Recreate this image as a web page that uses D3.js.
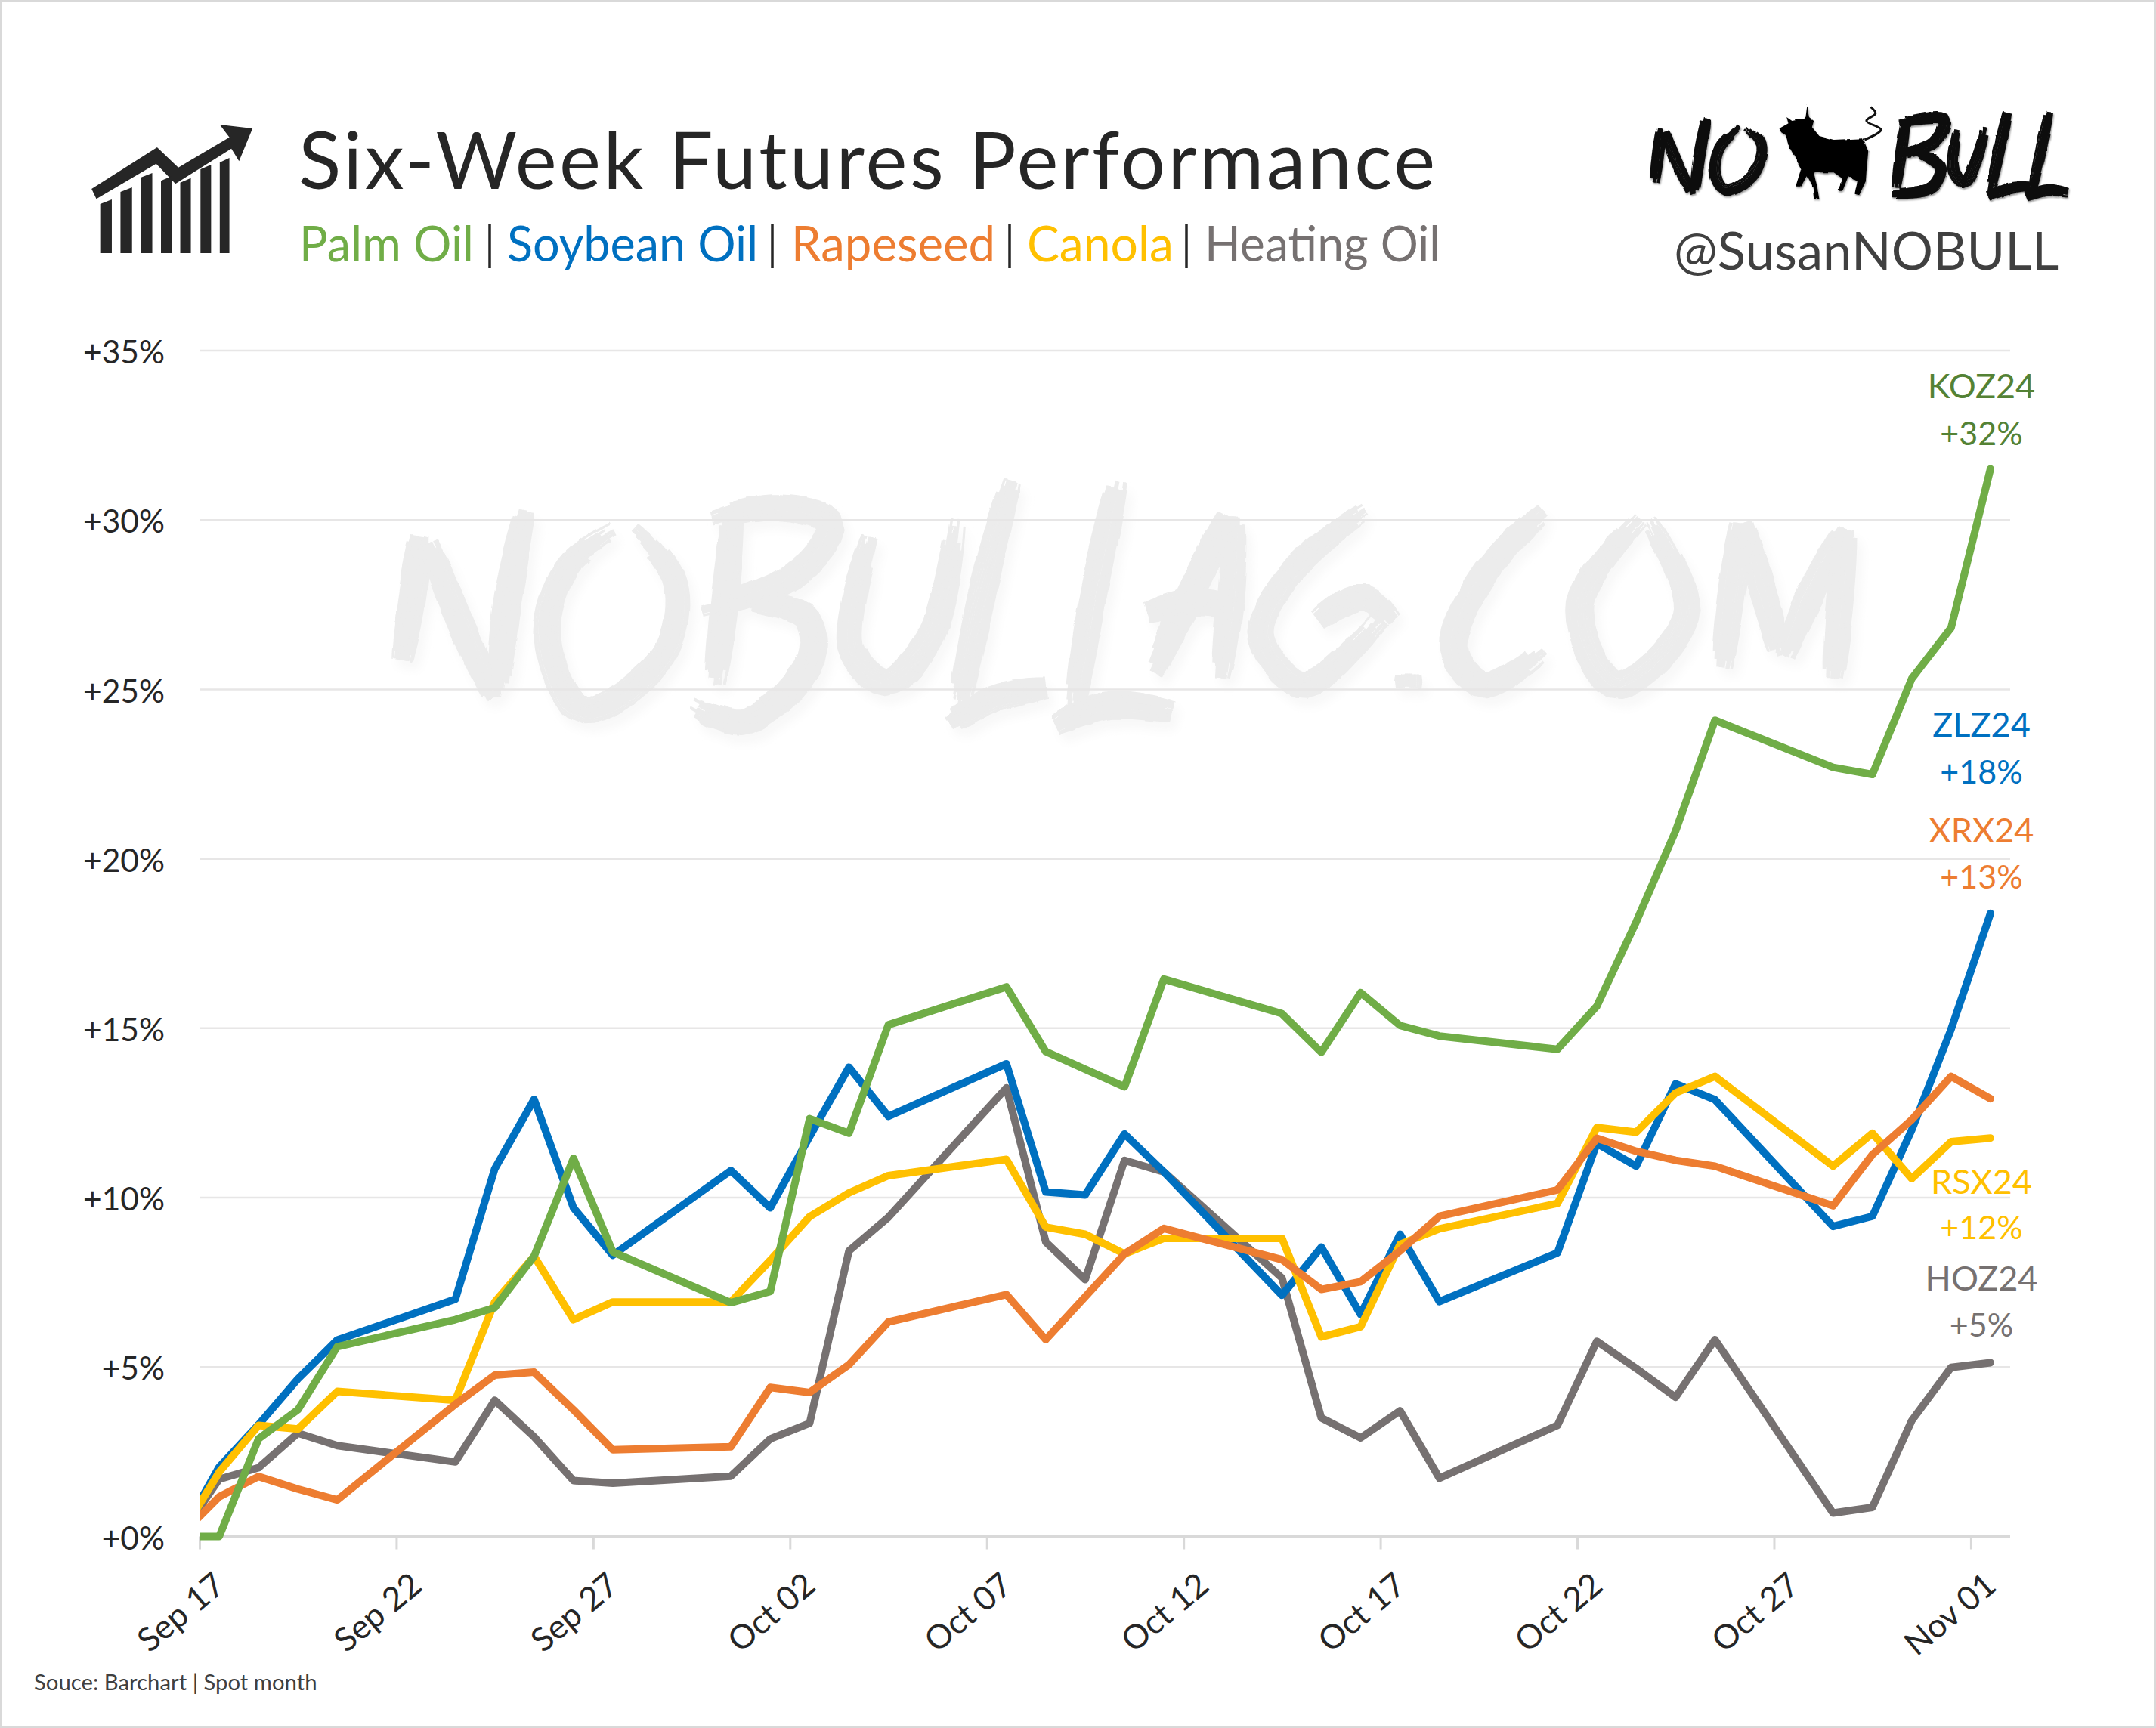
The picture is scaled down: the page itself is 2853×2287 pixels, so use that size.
<!DOCTYPE html>
<html><head><meta charset="utf-8">
<style>html,body{margin:0;padding:0;background:#fff}svg{display:block}text{font-family:Lato,"Open Sans",sans-serif}</style>
<script src="https://d3js.org/d3.v7.min.js"></script>
</head><body><svg id="c" width="2853" height="2287"></svg>
<script>
const dates=["09-16","09-17","09-18","09-19","09-20","09-23","09-24","09-25","09-26","09-27","09-30","10-01","10-02","10-03","10-04","10-07","10-08","10-09","10-10","10-11","10-14","10-15","10-16","10-17","10-18","10-21","10-22","10-23","10-24","10-25","10-28","10-29","10-30","10-31","11-01"];
const palmOil=[0,0,2.88,3.74,5.6,6.4,6.75,8.27,11.16,8.4,6.9,7.23,12.33,11.9,15.1,16.22,14.31,13.79,13.27,16.45,15.43,14.29,16.05,15.08,14.77,14.38,15.65,18.14,20.82,24.09,22.7,22.49,25.32,26.82,31.51];
const soybeanOil=[0,2.05,3.3,4.65,5.8,7.0,10.85,12.9,9.7,8.3,10.8,9.7,11.8,13.85,12.4,13.95,10.17,10.08,11.88,10.76,7.12,8.54,6.55,8.92,6.93,8.37,11.6,10.93,13.36,12.89,9.15,9.45,12.0,14.97,18.39];
const rapeseed=[0,1.17,1.77,1.4,1.08,3.9,4.76,4.85,3.74,2.56,2.65,4.4,4.25,5.07,6.33,7.14,5.81,7.07,8.34,9.09,8.17,7.29,7.52,8.43,9.45,10.23,11.75,11.37,11.1,10.93,9.76,11.27,12.3,13.58,12.92];
const canola=[0,1.9,3.28,3.17,4.28,4.02,6.92,8.27,6.4,6.92,6.92,8.15,9.44,10.14,10.65,11.13,9.13,8.92,8.34,8.8,8.8,5.89,6.19,8.62,9.08,9.83,12.07,11.93,13.09,13.58,10.93,11.9,10.56,11.65,11.76];
const heatingOil=[0,1.69,2.03,3.05,2.68,2.2,4.02,2.94,1.65,1.57,1.78,2.88,3.34,8.43,9.42,13.24,8.69,7.58,11.1,10.76,7.63,3.5,2.91,3.71,1.72,3.28,5.76,4.96,4.11,5.81,0.69,0.86,3.42,4.99,5.13];
const yTicks=[0,5,10,15,20,25,30,35];
const xTickDates=["09-17","09-22","09-27","10-02","10-07","10-12","10-17","10-22","10-27","11-01"];
const drawOrder=[["heat",heatingOil,"#767171"],["soy",soybeanOil,"#0070C0"],["canola",canola,"#FFC000"],["rape",rapeseed,"#ED7D31"],["palm",palmOil,"#70AD47"]];
const endLabels=[["KOZ24","+32%","#548235",527,589],["ZLZ24","+18%","#0070C0",975,1036.5],["XRX24","+13%","#ED7D31",1114.5,1176],["RSX24","+12%","#FFC000",1580,1640],["HOZ24","+5%","#767171",1708,1769]];
const legendItems=[["Palm Oil","#70AD47",396,231],["Soybean Oil","#0070C0",671,332],["Rapeseed","#ED7D31",1047,270],["Canola","#FFC000",1359,194],["Heating Oil","#767171",1594,312]];
const legendSeps=[648,1022,1336,1570];

const svg=d3.select("#c");
const W=2853,H=2287;
const noon=s=>{const[m,d]=s.split("-").map(Number);return new Date(Date.UTC(2024,m-1,d,12));};
const mid=s=>{const[m,d]=s.split("-").map(Number);return new Date(Date.UTC(2024,m-1,d));};
const x=d3.scaleUtc().domain([mid("09-17"),mid("11-02")]).range([264,2660]);
const y=d3.scaleLinear().domain([0,35]).range([2033.5,464]);

const defs=svg.append("defs");
defs.append("clipPath").attr("id","plot").append("rect").attr("x",264).attr("y",400).attr("width",2500).attr("height",1700);
function roughFilter(id,scale,freq,shadow){
  const f=defs.append("filter").attr("id",id).attr("x","-5%").attr("y","-10%").attr("width","115%").attr("height","125%");
  f.append("feTurbulence").attr("type","fractalNoise").attr("baseFrequency",freq).attr("numOctaves",3).attr("seed",4).attr("result","n");
  f.append("feDisplacementMap").attr("in","SourceGraphic").attr("in2","n").attr("scale",scale).attr("xChannelSelector","R").attr("yChannelSelector","G").attr("result","d");
  if(shadow){
    f.append("feGaussianBlur").attr("in","d").attr("stdDeviation",shadow).attr("result","b");
    f.append("feOffset").attr("in","b").attr("dx",shadow).attr("dy",shadow*1.6).attr("result","o");
    f.append("feComponentTransfer").attr("in","o").attr("result","o2").append("feFuncA").attr("type","linear").attr("slope",0.4);
    const m=f.append("feMerge");m.append("feMergeNode").attr("in","o2");m.append("feMergeNode").attr("in","d");
  }
}
roughFilter("wmF",6,"0.04 0.012",7);
roughFilter("logoF",3,"0.09 0.03",1.2);

// page frame
svg.append("rect").attr("x",1.5).attr("y",1.5).attr("width",W-3).attr("height",H-3).attr("fill","#fff").attr("stroke","#d9d9d9").attr("stroke-width",3);

// dry-brush decoration for the logo and watermark: each stroke is a bundle of thin bristles
const brushLine=d3.line().curve(d3.curveCatmullRom.alpha(0.5));
const hash=(a,b)=>{const v=Math.sin(a*12.9898+b*78.233)*43758.5453;return v-Math.floor(v);};
function brush(g,strokes,fx,fy,color,w,n,step){
  strokes.forEach((s,si)=>{
    const pts=s.map(p=>[fx(p[0]),fy(p[1])]);
    const tmp=g.append("path").attr("d",brushLine(pts));
    const node=tmp.node(),L=node.getTotalLength();
    const m=Math.max(3,Math.round(L/step));
    const samples=d3.range(m+1).map(i=>{
      const l=L*i/m,a=node.getPointAtLength(Math.max(0,l-1)),b=node.getPointAtLength(Math.min(L,l+1)),p=node.getPointAtLength(l);
      const dx=b.x-a.x,dy=b.y-a.y,h=Math.hypot(dx,dy)||1;
      return {x:p.x,y:p.y,nx:-dy/h,ny:dx/h,u:i/m};
    });
    tmp.remove();
    for(let k=0;k<n;k++){
      const t=(k+0.5)/n-0.5;
      const edge=Math.abs(t)*2;
      const a0=hash(k+1,si+1)*(0.02+0.09*edge);
      const a1=1-hash(k+7,si+3)*(0.03+0.12*edge);
      const seg=samples.filter(q=>q.u>=a0&&q.u<=a1).map(q=>{
        const prof=0.55+0.45*Math.sqrt(Math.sin(Math.PI*q.u));
        const off=t*w*prof;
        return [q.x+q.nx*off,q.y+q.ny*off];
      });
      g.append("path").attr("d",d3.line()(seg)).attr("fill","none").attr("stroke",color)
       .attr("stroke-width",(w/n)*(0.95+0.75*hash(k+3,si+5))).attr("stroke-linecap","butt").attr("stroke-linejoin","round");
    }
  });
}

// watermark
const wm=svg.append("g").attr("filter","url(#wmF)");
const wmStrokes=[
 [[80,300],[70,600],[60,850]],[[85,330],[120,680],[155,1000]],[[185,200],[165,600],[155,1000]],
 [[285,280],[330,500],[320,800],[240,1020],[205,750],[225,450],[285,280]],
 [[390,200],[380,600],[370,950]],[[360,270],[430,215],[485,280],[450,480],[350,630]],[[400,585],[460,650],[465,820],[400,1065],[340,990]],
 [[525,300],[505,780],[540,910],[585,720],[610,230]],
 [[665,80],[635,550],[610,1040]],[[595,1090],[650,970],[705,930]],[[770,80],[745,550],[725,1040]],[[700,1090],[760,1000],[830,1030]],
 [[880,220],[840,560],[800,900]],[[885,220],[880,560],[870,920]],[[790,640],[845,590],[890,620]],
 [[1020,210],[945,450],[910,720],[950,920],[1005,760],[1030,640]],[[960,680],[1010,570],[1045,690]],
 [[1055,850],[1055,960]],
 [[1195,210],[1130,480],[1100,780],[1130,920],[1195,760]],
 [[1290,240],[1225,600],[1260,920],[1330,640],[1290,240]],
 [[1385,250],[1375,560],[1365,880]],[[1385,250],[1405,540],[1425,830]],[[1490,270],[1455,540],[1425,830]],[[1490,270],[1482,600],[1475,920]]
];
brush(wm,wmStrokes,X=>450+X/0.7467,Y=>600+Y/3,"#ececec",36,12,10);

// grid
const grid=svg.append("g");
grid.selectAll("line").data(yTicks.filter(d=>d>0)).join("line")
  .attr("x1",264).attr("x2",2660).attr("y1",d=>y(d)).attr("y2",d=>y(d)).attr("stroke","#e7e6e6").attr("stroke-width",2.5);

// axes
const yAxis=d3.axisLeft(y).tickValues(yTicks).tickFormat(d=>"+"+d+"%").tickSize(0).tickPadding(46);
const gy=svg.append("g").attr("transform","translate(264,3)").call(yAxis);
gy.select(".domain").remove();
gy.selectAll("text").attr("font-size",42.5).attr("fill","#262626").style("font-family","Lato");

const fmt=d3.utcFormat("%b %d");
const xAxis=d3.axisBottom(x).tickValues(xTickDates.map(mid)).tickFormat(fmt).tickSize(17).tickPadding(0);
const gx=svg.append("g").attr("transform","translate(0,2033.5)").call(xAxis);
gx.select(".domain").attr("stroke","#d9d9d9").attr("stroke-width",4).attr("d","M264,0H2660");
gx.selectAll("line").attr("stroke","#d9d9d9").attr("stroke-width",3);
gx.selectAll("text").attr("font-size",44).attr("fill","#262626").style("font-family","Lato")
  .attr("text-anchor","end").attr("dy",0).attr("y",0)
  .attr("transform","translate(36,69) rotate(-40)");

// series
const line=d3.line().x((d,i)=>x(noon(dates[i]))).y(d=>y(d)).curve(d3.curveLinear);
const gl=svg.append("g").attr("clip-path","url(#plot)");
drawOrder.forEach(([n,v,c])=>{
  gl.append("path").datum(v).attr("class","s-"+n).attr("d",line).attr("fill","none").attr("stroke",c).attr("stroke-width",10).attr("stroke-linecap","round").attr("stroke-linejoin","round");
});

// end labels
endLabels.forEach(([a,b,c,y1,y2])=>{
  svg.append("text").attr("x",2622).attr("y",y1).attr("text-anchor","middle").attr("font-size",45).attr("fill",c).text(a);
  svg.append("text").attr("x",2622).attr("y",y2).attr("text-anchor","middle").attr("font-size",43).attr("fill",c).text(b);
});

// title
svg.append("text").attr("x",395).attr("y",250).attr("font-size",104).attr("letter-spacing",3.4).attr("fill","#262626").text("Six-Week Futures Performance");
legendItems.forEach(([t,c,lx,w])=>{
  svg.append("text").attr("x",lx).attr("y",345.5).attr("font-size",65).attr("fill",c).attr("textLength",w).attr("lengthAdjust","spacingAndGlyphs").text(t);
});
legendSeps.forEach(s=>svg.append("line").attr("x1",s).attr("x2",s).attr("y1",296).attr("y2",355).attr("stroke","#262626").attr("stroke-width",3.5));

// source + handle
svg.append("text").attr("x",45).attr("y",2237).attr("font-size",29.3).attr("fill","#404040").text("Souce: Barchart | Spot month");
svg.append("text").attr("x",2215).attr("y",357).attr("font-size",69).attr("fill","#404040").text("@SusanNOBULL");

// icon
const ix=X=>X/0.784, iy=Y=>100+Y/3;
const icon=svg.append("g").attr("fill","#262626");
const poly=pts=>pts.map(p=>ix(p[0])+","+iy(p[1])).join(" ");
icon.append("polygon").attr("points",poly([[95,450],[163,285],[185,365],[238,245],[228,195],[262,210],[248,340],[240,290],[182,430],[162,350],[100,490]]));
[[104,116,510],[125,137,462],[146,158,405],[167,178,418],[187,198,425],[208,219,372],[228,238,345]].forEach(b=>{
  icon.append("polygon").attr("points",poly([[b[0],b[2]],[b[1],b[2]-18],[b[1],705],[b[0],705]]));
});

// logo
const lx=X=>2100+X/2.082, ly=Y=>100+Y/3;
const logo=svg.append("g").attr("filter","url(#logoF)");
brush(logo,[
 [[205,195],[195,320],[185,440]],[[212,210],[250,350],[295,485]],[[330,155],[310,320],[295,485]],
 [[430,195],[365,290],[355,400],[385,455],[460,390],[480,270],[430,195]],
 [[880,160],[865,310],[850,460]],[[850,190],[985,175],[955,265],[840,320]],[[900,300],[975,365],[950,445],[830,470]],
 [[1020,200],[1010,380],[1040,425],[1075,330],[1100,190]],
 [[1160,130],[1135,300],[1110,470]],[[1095,485],[1160,450],[1230,440]],[[1275,130],[1250,300],[1225,470]],[[1200,488],[1270,455],[1335,470]]
],lx,ly,"#0a0a0a",15,6,5);
logo.append("polygon").attr("fill","#000").attr("points",[[530,210],[555,190],[550,165],[565,180],[600,170],[605,115],[612,165],[625,180],[620,205],[640,240],[680,255],[760,250],[775,300],[770,380],[768,420],[750,475],[738,470],[745,420],[720,400],[705,455],[690,455],[705,410],[680,385],[625,385],[635,450],[640,490],[625,490],[622,445],[605,400],[590,440],[575,440],[590,370],[560,290],[550,240],[535,225]].map(p=>lx(p[0])+","+ly(p[1])).join(" "));
svg.append("path").attr("d",brushLine([[765,255],[810,215],[770,180],[795,150],[782,125]].map(p=>[lx(p[0]),ly(p[1])]))).attr("fill","none").attr("stroke","#111").attr("stroke-width",3);
</script></body></html>
